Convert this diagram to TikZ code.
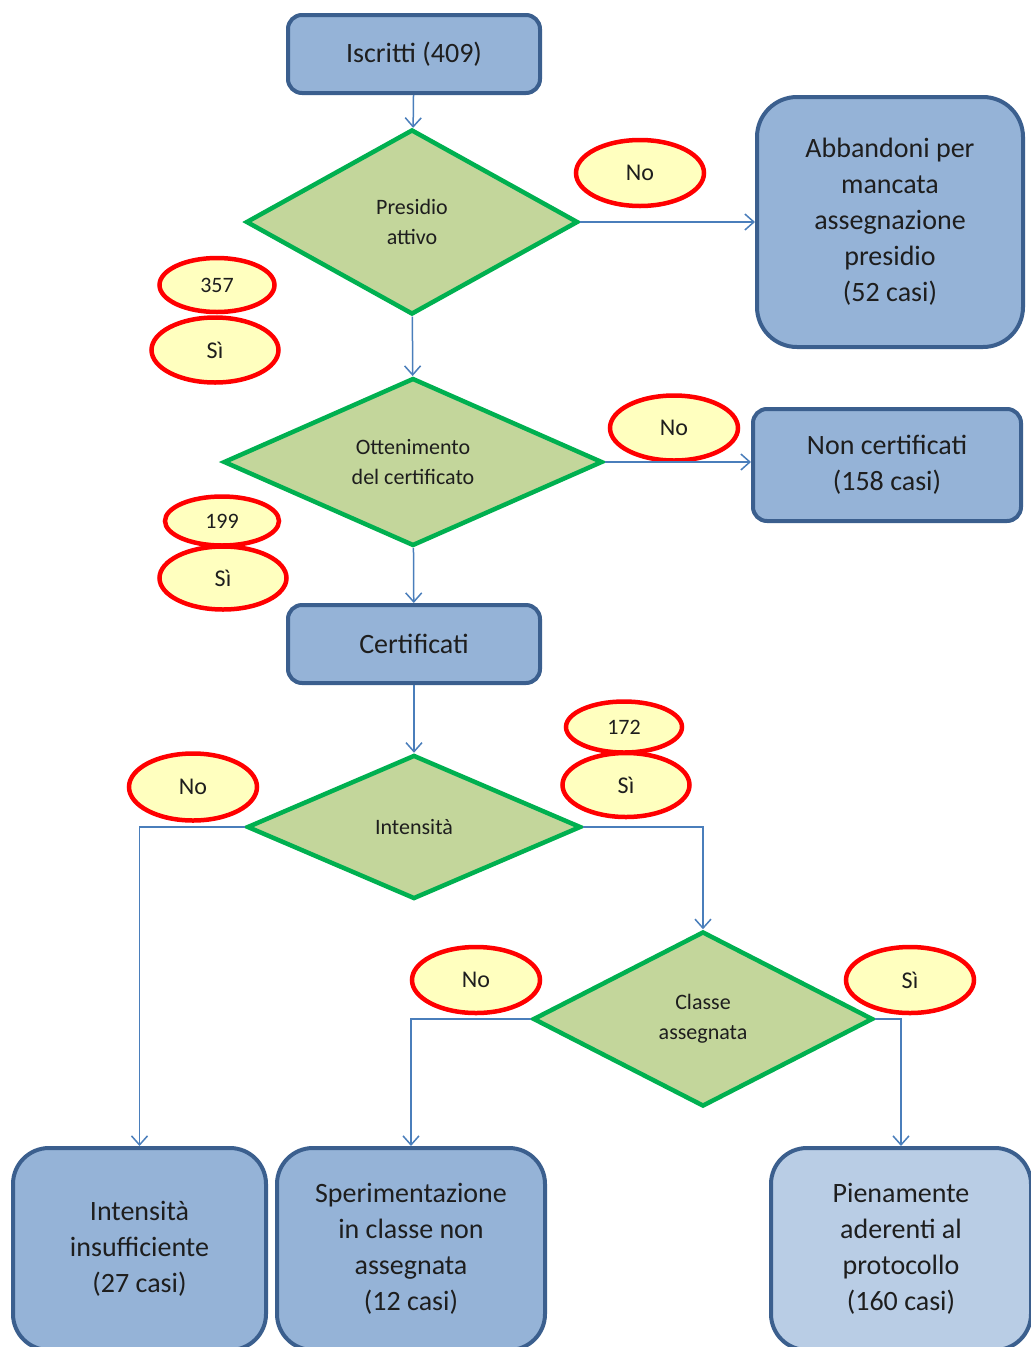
\documentclass[tikz,border=0pt]{standalone}
\usepackage{fontspec}
\setmainfont{Carlito}
\usetikzlibrary{arrows.meta,shapes.geometric}
\definecolor{boxblue}{HTML}{95B3D7}
\definecolor{boxlight}{HTML}{B9CDE5}
\definecolor{boxedge}{HTML}{3B5F8E}
\definecolor{diafill}{HTML}{C3D69B}
\definecolor{diaedge}{HTML}{00B050}
\definecolor{tagfill}{HTML}{FFFFBF}
\definecolor{tagedge}{HTML}{FF0000}
\definecolor{linkblue}{HTML}{4A7EBB}
\definecolor{textdark}{HTML}{1E1E1E}

\begin{document}
\begin{tikzpicture}[
  x=1pt, y=-1pt,
  >={Straight Barb[length=9pt,width=16pt]},
  box/.style={rectangle, draw=boxedge, fill=boxblue, line width=4pt, rounded corners=14pt, align=center, text=textdark, inner sep=0pt, font=\fontsize{28}{36}\selectfont},
  choice/.style={diamond, draw=diaedge, fill=diafill, line width=4.5pt, align=center, text=textdark, inner sep=0pt, font=\fontsize{22}{30}\selectfont},
  tag/.style={ellipse, draw=tagedge, fill=tagfill, line width=4.5pt, text=textdark, inner sep=0pt, font=\fontsize{24}{28}\selectfont},
  flow/.style={->, draw=linkblue, line width=1.5pt}
]
  \useasboundingbox (0,0) rectangle (1031,1347);
  \clip (0,0) rectangle (1031,1347);

  % boxes
  \node[box, minimum width=252pt, minimum height=78pt] (iscr) at (414,54) {Iscritti (409)};
  \node[box, minimum width=266pt, minimum height=250pt, rounded corners=40pt] (abb) at (890,222) {Abbandoni per\\mancata\\assegnazione\\presidio\\(52 casi)};
  \node[box, minimum width=268pt, minimum height=112pt] (noncert) at (887,465) {Non certificati\\(158 casi)};
  \node[box, minimum width=252pt, minimum height=78pt] (cert) at (414,644) {Certificati};
  \node[box, minimum width=253pt, minimum height=202pt, rounded corners=36pt] (insuff) at (139.5,1249) {Intensità\\insufficiente\\(27 casi)};
  \node[box, minimum width=268pt, minimum height=202pt, rounded corners=36pt] (sper) at (411,1249) {Sperimentazione\\in classe non\\assegnata\\(12 casi)};
  \node[box, fill=boxlight, minimum width=260pt, minimum height=202pt, rounded corners=36pt] (pien) at (901,1249) {Pienamente\\aderenti al\\protocollo\\(160 casi)};

  % decisions
  \node[choice, minimum width=332pt, minimum height=185pt] (pres) at (412,222) {Presidio\\attivo};
  \node[choice, minimum width=379pt, minimum height=165pt] (otten) at (413,462) {Ottenimento\\del certificato};
  \node[choice, minimum width=334pt, minimum height=144pt] (inten) at (414,827) {Intensità};
  \node[choice, minimum width=340pt, minimum height=175pt] (classe) at (703,1019) {Classe\\assegnata};

  % answer tags
  \node[tag, minimum width=128pt, minimum height=66pt] (no1) at (640,173) {No};
  \node[tag, minimum width=115pt, minimum height=54pt, font=\fontsize{22}{26}\selectfont] (n357) at (217,285) {357};
  \node[tag, minimum width=127pt, minimum height=65pt] (si1) at (215,350) {Sì};
  \node[tag, minimum width=128pt, minimum height=65pt] (no2) at (674,428) {No};
  \node[tag, minimum width=114pt, minimum height=49pt, font=\fontsize{22}{26}\selectfont] (n199) at (222,521) {199};
  \node[tag, minimum width=127pt, minimum height=63pt] (si2) at (223,578) {Sì};
  \node[tag, minimum width=128pt, minimum height=67pt] (no3) at (193,787) {No};
  \node[tag, minimum width=116pt, minimum height=51pt, font=\fontsize{22}{26}\selectfont] (n172) at (624,727) {172};
  \node[tag, minimum width=127pt, minimum height=64pt] (si3) at (626,785) {Sì};
  \node[tag, minimum width=128pt, minimum height=66pt] (no4) at (476,980) {No};
  \node[tag, minimum width=128pt, minimum height=66pt] (si4) at (910,980) {Sì};

  % connectors
  \draw[flow] (iscr) -- (pres);
  \draw[flow] (pres.east) -- (abb.west);
  \draw[flow] (pres) -- (otten);
  \draw[flow] (otten.east) -- (otten.east -| noncert.west);
  \draw[flow] (otten) -- (cert);
  \draw[flow] (cert) -- (inten);
  \draw[flow] (inten.west) -| (insuff.north);
  \draw[flow] (inten.east) -| (classe.north);
  \draw[flow] (classe.west) -| (sper.north);
  \draw[flow] (classe.east) -| (pien.north);
\end{tikzpicture}
\end{document}
